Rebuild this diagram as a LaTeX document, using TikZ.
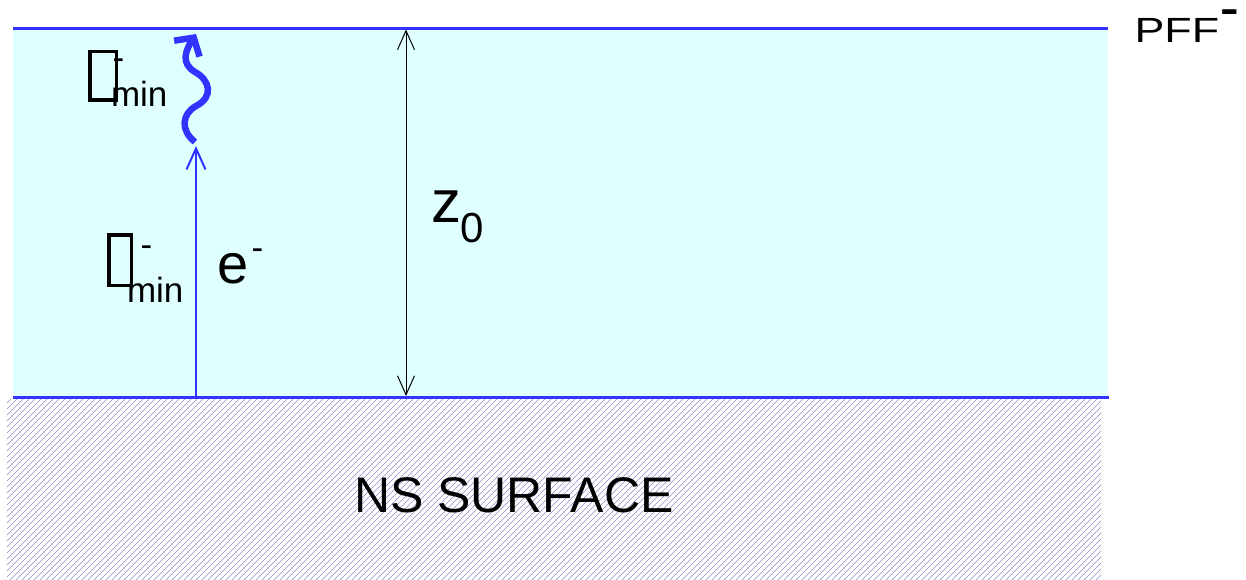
\documentclass[tikz,border=0pt]{standalone}
\usepackage{fontspec}
\setmainfont{Liberation Sans}
\usetikzlibrary{arrows.meta}
\definecolor{skyfill}{RGB}{224,255,255}
\definecolor{lineblue}{RGB}{51,51,255}
\definecolor{hatchc}{RGB}{140,140,205}
\newcommand\fsz[1]{\fontsize{#1pt}{#1pt}\selectfont}
% empty "missing glyph" box, as the reference prints it
\newcommand\tofu[2]{{\fboxrule=3.5pt\fboxsep=0pt\fbox{\rule{0pt}{\dimexpr#2-7pt\relax}\hspace{\dimexpr#1-7pt\relax}}}}
\begin{document}
\begin{tikzpicture}[x=1pt,y=-1pt,
  txt/.style={inner sep=0pt, outer sep=0pt, anchor=base west, text=black},
  bandline/.style={lineblue, line width=3pt},
  hatchline/.style={hatchc, line width=0.6pt},
  dimarrow/.style={black, line width=1pt, {Straight Barb[length=19pt,width=17pt]}-{Straight Barb[length=19pt,width=17pt]}},
  elarrow/.style={lineblue, line width=2pt, -{Straight Barb[length=21pt,width=19pt]}},
  wavearrow/.style={lineblue, line width=6.5pt, -{Straight Barb[length=13pt,width=30pt]}}]
\useasboundingbox (0,0) rectangle (1246,580);
% atmosphere band
\fill[skyfill] (13,28) rectangle (1108,397);
% hatched surface
\begin{scope}
  \clip (7,399) rectangle (1101,579);
  \foreach \i in {-200,-194,...,1100} \draw[hatchline] (\i,580) -- ++(182,-182);
\end{scope}
\draw[bandline] (13,28.5) -- (1108,28.5);
\draw[bandline] (13,397) -- (1109,397);
% z0 dimension arrow
\coordinate (ztop) at (406,29.5);
\coordinate (zbot) at (406,396);
\draw[dimarrow] (ztop) -- (zbot);
% electron arrow
\coordinate (ebot) at (196,397);
\coordinate (etop) at (196,146);
\draw[elarrow] (ebot) -- (etop);
% photon wavy arrow
\coordinate (wbot) at (195,142);
\coordinate (wtop) at (196,34);
\draw[wavearrow] (wbot) .. controls (180,130) and (182,114) .. (196,106)
  .. controls (214,97) and (210,80) .. (195,72)
  .. controls (180,63) and (186,50) .. (wtop);
% labels
\node[inner sep=0pt, outer sep=0pt, anchor=south west] (g1box) at (88,102) {\tofu{30pt}{52pt}};
\node[txt, font=\fsz{35}] (g1sup) at (112.5,69.5) {\smash{-}};
\node[txt, font=\fsz{35}] (g1sub) at (111,107) {min};
\node[inner sep=0pt, outer sep=0pt, anchor=south west] (g2box) at (107,287) {\tofu{26pt}{54pt}};
\node[txt, font=\fsz{35}] (g2sup) at (140.5,256.5) {\smash{-}};
\node[txt, font=\fsz{35}] (g2sub) at (127,302) {min};
\node[txt, font=\fsz{56}] (elab) at (217,283) {e};
\node[txt, font=\fsz{35}] (esup) at (251.5,259.5) {\smash{-}};
\node[txt, font=\fsz{60}] (zlab) at (431,222) {z};
\node[txt, font=\fsz{42}] (zsub) at (460,242) {0};
\node[txt, font=\fsz{50}] (ns) at (354,512) {NS SURFACE};
\node[txt, font=\fsz{35}] (pff) at (1134.5,43) {\scalebox{1.28}[1]{PFF}};
\node[txt, font=\fsz{40}\bfseries] (pffsup) at (1220,22.5) {\smash{\scalebox{1.4}[1]{-}}};
\end{tikzpicture}
\end{document}
